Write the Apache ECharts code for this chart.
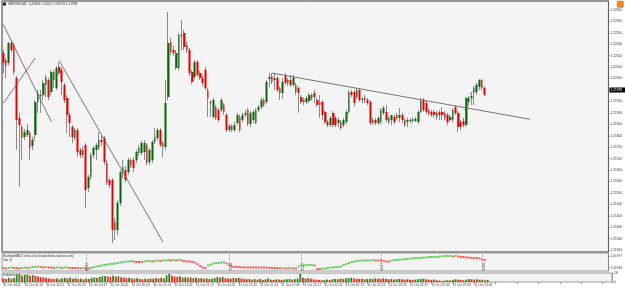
<!DOCTYPE html>
<html>
<head>
<meta charset="utf-8">
<script src="https://cdn.jsdelivr.net/npm/echarts@6/dist/echarts.min.js"></script>
<style>
  html, body { margin: 0; padding: 0; background: #fff; }
  #chart { width: 625px; height: 289px; }
</style>
</head>
<body>
<div id="chart"></div>
<script>
// GBPUSD M1, 11 Oct 2016, oldest bar first
const opens = [
  1.22162, 1.22131, 1.22118, 1.22205, 1.22197, 1.22052, 1.21878, 1.21838, 1.21795, 1.21803,
  1.21812, 1.21755, 1.21803, 1.21948, 1.21978, 1.21978, 1.22022, 1.22044, 1.21991, 1.22044,
  1.22009, 1.22101, 1.22087, 1.22022, 1.21965, 1.21891, 1.21838, 1.21790, 1.21825, 1.21738,
  1.21716, 1.21760, 1.21572, 1.21620, 1.21716, 1.21738, 1.21747, 1.21781, 1.21790, 1.21681,
  1.21607, 1.21607, 1.21423, 1.21388, 1.21506, 1.21642, 1.21650, 1.21642, 1.21694, 1.21694,
  1.21694, 1.21725, 1.21725, 1.21729, 1.21760, 1.21685, 1.21694, 1.21773, 1.21790, 1.21825,
  1.21768, 1.21751, 1.21969, 1.22210, 1.22175, 1.22096, 1.22096, 1.22236, 1.22249, 1.22197,
  1.22175, 1.22079, 1.22057, 1.22122, 1.22074, 1.22052, 1.22087, 1.22000, 1.21948, 1.21882,
  1.21926, 1.21913, 1.21913, 1.21934, 1.21891, 1.21825, 1.21843, 1.21825, 1.21856, 1.21882,
  1.21869, 1.21891, 1.21913, 1.21851, 1.21869, 1.21856, 1.21913, 1.21926, 1.21956, 1.21948,
  1.22048, 1.22061, 1.22044, 1.22052, 1.22009, 1.21987, 1.22061, 1.22031, 1.22044, 1.22022,
  1.21991, 1.22009, 1.21969, 1.21956, 1.21948, 1.21952, 1.21965, 1.21987, 1.21956, 1.21948,
  1.21948, 1.21904, 1.21860, 1.21847, 1.21900, 1.21878, 1.21856, 1.21860, 1.21847, 1.21860,
  1.21904, 1.21991, 1.21991, 1.21969, 1.22000, 1.21956, 1.21965, 1.21956, 1.21948, 1.21856,
  1.21869, 1.21856, 1.21860, 1.21900, 1.21904, 1.21860, 1.21869, 1.21882, 1.21891, 1.21878,
  1.21891, 1.21869, 1.21860, 1.21865, 1.21865, 1.21865, 1.21860, 1.21904, 1.21956, 1.21943,
  1.21913, 1.21904, 1.21904, 1.21882, 1.21904, 1.21904, 1.21900, 1.21891, 1.21869, 1.21869,
  1.21926, 1.21900, 1.21860, 1.21865, 1.21847, 1.21948, 1.21965, 1.21987, 1.21991, 1.22013,
  1.22044, 1.22009
];
const closes = [
  1.22118, 1.22105, 1.22205, 1.22175, 1.22079, 1.21869, 1.21847, 1.21790, 1.21816, 1.21825,
  1.21747, 1.21781, 1.21948, 1.21987, 1.21974, 1.22031, 1.22057, 1.21969, 1.22079, 1.22079,
  1.22096, 1.22074, 1.22035, 1.21956, 1.21891, 1.21856, 1.21795, 1.21825, 1.21729, 1.21716,
  1.21738, 1.21563, 1.21620, 1.21716, 1.21747, 1.21760, 1.21781, 1.21773, 1.21685, 1.21594,
  1.21585, 1.21388, 1.21388, 1.21506, 1.21642, 1.21664, 1.21607, 1.21694, 1.21672, 1.21659,
  1.21729, 1.21747, 1.21768, 1.21768, 1.21681, 1.21738, 1.21773, 1.21795, 1.21825, 1.21760,
  1.21751, 1.21943, 1.22205, 1.22166, 1.22162, 1.22162, 1.22240, 1.22240, 1.22188, 1.22175,
  1.22074, 1.22035, 1.22122, 1.22066, 1.22052, 1.22031, 1.22009, 1.21965, 1.21943, 1.21956,
  1.21878, 1.21869, 1.21956, 1.21904, 1.21825, 1.21843, 1.21825, 1.21847, 1.21891, 1.21825,
  1.21891, 1.21900, 1.21851, 1.21900, 1.21904, 1.21913, 1.21926, 1.21956, 1.21934, 1.22035,
  1.22057, 1.22035, 1.22052, 1.22000, 1.21987, 1.22035, 1.22031, 1.22044, 1.22022, 1.22052,
  1.22022, 1.21987, 1.21948, 1.21948, 1.21965, 1.21978, 1.21978, 1.21969, 1.21934, 1.21934,
  1.21891, 1.21860, 1.21847, 1.21878, 1.21847, 1.21847, 1.21869, 1.21834, 1.21869, 1.21904,
  1.21991, 1.21978, 1.21943, 1.22000, 1.21956, 1.21961, 1.21956, 1.21943, 1.21856, 1.21869,
  1.21856, 1.21878, 1.21913, 1.21921, 1.21869, 1.21878, 1.21891, 1.21860, 1.21878, 1.21891,
  1.21869, 1.21847, 1.21869, 1.21869, 1.21873, 1.21873, 1.21904, 1.21952, 1.21913, 1.21904,
  1.21895, 1.21891, 1.21891, 1.21900, 1.21891, 1.21891, 1.21878, 1.21860, 1.21882, 1.21913,
  1.21900, 1.21838, 1.21838, 1.21847, 1.21965, 1.21965, 1.21974, 1.22009, 1.22022, 1.22044,
  1.22009, 1.21978
];
const lows = [
  1.22074, 1.22052, 1.22109, 1.22166, 1.22066, 1.21738, 1.21576, 1.21694, 1.21781, 1.21795,
  1.21694, 1.21738, 1.21781, 1.21900, 1.21900, 1.21956, 1.21969, 1.21956, 1.21978, 1.22009,
  1.22000, 1.22066, 1.21978, 1.21943, 1.21812, 1.21795, 1.21768, 1.21781, 1.21707, 1.21703,
  1.21703, 1.21484, 1.21554, 1.21607, 1.21703, 1.21694, 1.21738, 1.21755, 1.21672, 1.21585,
  1.21572, 1.21331, 1.21344, 1.21366, 1.21493, 1.21615, 1.21598, 1.21629, 1.21659, 1.21642,
  1.21681, 1.21712, 1.21716, 1.21694, 1.21672, 1.21672, 1.21681, 1.21764, 1.21781, 1.21751,
  1.21707, 1.21738, 1.21956, 1.22153, 1.22149, 1.22087, 1.22087, 1.22175, 1.22175, 1.22162,
  1.22061, 1.22026, 1.22048, 1.22057, 1.22044, 1.22017, 1.22000, 1.21882, 1.21882, 1.21878,
  1.21869, 1.21860, 1.21904, 1.21891, 1.21816, 1.21816, 1.21816, 1.21816, 1.21847, 1.21816,
  1.21860, 1.21882, 1.21843, 1.21838, 1.21856, 1.21851, 1.21904, 1.21917, 1.21926, 1.21939,
  1.22013, 1.22026, 1.22000, 1.21991, 1.21956, 1.21961, 1.22022, 1.22017, 1.22013, 1.22013,
  1.21978, 1.21900, 1.21939, 1.21934, 1.21939, 1.21943, 1.21956, 1.21943, 1.21926, 1.21878,
  1.21869, 1.21851, 1.21838, 1.21838, 1.21838, 1.21838, 1.21838, 1.21825, 1.21838, 1.21851,
  1.21895, 1.21969, 1.21926, 1.21961, 1.21948, 1.21943, 1.21943, 1.21934, 1.21847, 1.21847,
  1.21847, 1.21847, 1.21851, 1.21891, 1.21860, 1.21851, 1.21847, 1.21851, 1.21869, 1.21860,
  1.21856, 1.21838, 1.21838, 1.21856, 1.21856, 1.21860, 1.21851, 1.21900, 1.21904, 1.21895,
  1.21886, 1.21882, 1.21878, 1.21869, 1.21869, 1.21869, 1.21869, 1.21847, 1.21860, 1.21860,
  1.21891, 1.21816, 1.21825, 1.21838, 1.21838, 1.21930, 1.21934, 1.21934, 1.21978, 1.22000,
  1.22000, 1.21974
];
const highs = [
  1.22175, 1.22140, 1.22210, 1.22214, 1.22205, 1.22061, 1.21900, 1.21847, 1.21830, 1.21851,
  1.21821, 1.21795, 1.21956, 1.22000, 1.22000, 1.22044, 1.22066, 1.22052, 1.22087, 1.22087,
  1.22105, 1.22122, 1.22096, 1.22031, 1.21978, 1.21900, 1.21847, 1.21834, 1.21834, 1.21747,
  1.21755, 1.21768, 1.21629, 1.21725, 1.21755, 1.21768, 1.21816, 1.21799, 1.21799, 1.21694,
  1.21615, 1.21615, 1.21441, 1.21519, 1.21650, 1.21694, 1.21668, 1.21703, 1.21703, 1.21707,
  1.21738, 1.21760, 1.21777, 1.21781, 1.21768, 1.21747, 1.21781, 1.21834, 1.21834, 1.21834,
  1.21777, 1.22044, 1.22341, 1.22227, 1.22192, 1.22175, 1.22249, 1.22306, 1.22262, 1.22210,
  1.22184, 1.22087, 1.22131, 1.22131, 1.22083, 1.22066, 1.22101, 1.22009, 1.21956, 1.21965,
  1.21934, 1.21921, 1.21965, 1.21943, 1.21900, 1.21851, 1.21851, 1.21860, 1.21900, 1.21891,
  1.21900, 1.21913, 1.21921, 1.21908, 1.21913, 1.21921, 1.21934, 1.21965, 1.21965, 1.22044,
  1.22074, 1.22074, 1.22074, 1.22061, 1.22017, 1.22052, 1.22074, 1.22052, 1.22066, 1.22066,
  1.22031, 1.22017, 1.21978, 1.21965, 1.21974, 1.21987, 1.21987, 1.22000, 1.21965, 1.21978,
  1.21956, 1.21913, 1.21869, 1.21886, 1.21908, 1.21886, 1.21878, 1.21869, 1.21878, 1.21913,
  1.22000, 1.22000, 1.22000, 1.22009, 1.22009, 1.21969, 1.21978, 1.21965, 1.21956, 1.21878,
  1.21878, 1.21886, 1.21921, 1.21930, 1.21934, 1.21886, 1.21891, 1.21891, 1.21900, 1.21921,
  1.21900, 1.21878, 1.21878, 1.21878, 1.21882, 1.21882, 1.21913, 1.21965, 1.21965, 1.21956,
  1.21921, 1.21913, 1.21913, 1.21908, 1.21913, 1.21926, 1.21908, 1.21900, 1.21891, 1.21921,
  1.21934, 1.21908, 1.21869, 1.21878, 1.21969, 1.21974, 1.21991, 1.22017, 1.22031, 1.22048,
  1.22048, 1.22017
];

// tick volumes (lower window)
const volumes = [
  12, 10, 14, 11, 13, 26, 27, 22, 24, 25, 21, 23, 20, 18, 16, 15, 14, 12, 11, 10,
  12, 9, 13, 14, 12, 15, 11, 13, 10, 11, 9, 12, 10, 14, 15, 13, 17, 19, 20, 18,
  17, 21, 18, 19, 16, 15, 13, 14, 12, 11, 13, 10, 9, 11, 10, 12, 11, 13, 12, 14,
  12, 22, 27, 21, 18, 17, 19, 15, 16, 14, 15, 13, 14, 12, 13, 11, 12, 10, 11, 13,
  16, 15, 17, 13, 12, 11, 14, 13, 14, 12, 10, 9, 10, 8, 9, 8, 10, 7, 9, 12,
  8, 7, 9, 8, 7, 8, 9, 10, 8, 9, 11, 27, 14, 12, 13, 11, 9, 8, 7, 6,
  7, 8, 7, 9, 10, 9, 11, 10, 12, 13, 14, 12, 11, 10, 11, 9, 10, 11, 10, 12,
  11, 10, 12, 11, 9, 10, 8, 9, 10, 9, 8, 9, 8, 7, 8, 9, 10, 11, 9, 8,
  7, 8, 6, 5, 4, 5, 6, 5, 7, 9, 8, 7, 6, 8, 10, 9, 8, 9, 7, 8,
  6, 7
];

// dotted indicator in the middle window
const dotValues = [
  1.0152, 1.0150, 1.0152, 1.0154, 1.0152, 1.0152, 1.0150, 1.0152, 1.0154, 1.0152,
  1.0154, 1.0156, 1.0156, 1.0158, 1.0156, 1.0154, 1.0156, 1.0154, 1.0154, 1.0152,
  1.0154, 1.0154, 1.0152, 1.0154, 1.0154, 1.0152, 1.0152, 1.0152, 1.0152, 1.0150,
  1.0152, 1.0150, 1.0150, 1.0152, 1.0156, 1.0158, 1.0160, 1.0162, 1.0164, 1.0166,
  1.0168, 1.0168, 1.0170, 1.0172, 1.0174, 1.0176, 1.0178, 1.0178, 1.0180, 1.0178,
  1.0176, 1.0176, 1.0176, 1.0178, 1.0180, 1.0180, 1.0178, 1.0180, 1.0182, 1.0180,
  1.0182, 1.0182, 1.0184, 1.0182, 1.0184, 1.0182, 1.0184, 1.0182, 1.0180, 1.0178,
  1.0178, 1.0176, 1.0174, 1.0168, 1.0160, 1.0154, 1.0152, 1.0162, 1.0166, 1.0170,
  1.0172, 1.0172, 1.0174, 1.0174, 1.0170, 1.0162, 1.0158, 1.0156, 1.0156, 1.0156,
  1.0154, 1.0154, 1.0154, 1.0154, 1.0154, 1.0154, 1.0154, 1.0154, 1.0154, 1.0154,
  1.0152, 1.0152, 1.0152, 1.0152, 1.0150, 1.0152, 1.0150, 1.0150, 1.0152, 1.0150,
  1.0150, 1.0158, 1.0162, 1.0162, 1.0164, 1.0164, 1.0164, 1.0162, 1.0148, 1.0148,
  1.0150, 1.0150, 1.0152, 1.0154, 1.0154, 1.0156, 1.0156, 1.0158, 1.0164, 1.0168,
  1.0172, 1.0176, 1.0178, 1.0180, 1.0182, 1.0182, 1.0182, 1.0182, 1.0182, 1.0184,
  1.0182, 1.0182, 1.0182, 1.0180, 1.0178, 1.0178, 1.0182, 1.0184, 1.0184, 1.0186,
  1.0186, 1.0188, 1.0188, 1.0190, 1.0190, 1.0192, 1.0192, 1.0192, 1.0194, 1.0194,
  1.0196, 1.0196, 1.0196, 1.0196, 1.0198, 1.0198, 1.0200, 1.0200, 1.0200, 1.0198,
  1.0200, 1.0198, 1.0196, 1.0196, 1.0194, 1.0194, 1.0192, 1.0192, 1.0192, 1.0190,
  1.0186, 1.0184
];

// axis texts
const timeLabels = [
  '11 Oct 2016', '11 Oct 20:13', '11 Oct 20:21', '11 Oct 20:29', '11 Oct 20:37', '11 Oct 20:45',
  '11 Oct 20:53', '11 Oct 21:01', '11 Oct 21:09', '11 Oct 21:17', '11 Oct 21:25', '11 Oct 21:33',
  '11 Oct 21:41', '11 Oct 21:49', '11 Oct 21:57', '11 Oct 22:05', '11 Oct 22:13', '11 Oct 22:21',
  '11 Oct 22:29', '11 Oct 22:37', '11 Oct 22:45', '11 Oct 22:53', '11 Oct 23:01'
];
const priceTicks = [
  1.2130, 1.2135, 1.2140, 1.2145, 1.2150, 1.2155, 1.2160, 1.2165, 1.2170, 1.2175, 1.2180,
  1.2185, 1.2190, 1.2195, 1.2200, 1.2205, 1.2210, 1.2215, 1.2220, 1.2225, 1.2230, 1.2235
];
const dotTicks = [1.01977, 1.01534];
const volTicks = [28, 0];

// hand drawn trend lines: [bar index, price] pairs
const trendLines = [
  [[0, 1.22286], [18, 1.21862]],
  [[0, 1.21942], [12, 1.22140]],
  [[21, 1.22128], [60, 1.21336]],
  [[101, 1.22074], [198, 1.21872]]
];
const blueMark = [[175, 1.21978], [179, 1.22035]];

// period separators in the middle window
const sepIdx = [31, 85, 112, 142, 180];
const sepLabels = ['20:36', '21:30', '21:57', '22:27', '23:05'];

const SLOTS = 228;          // bars plus empty chart shift on the right
const BULL = '#0b650b', BEAR = '#e40000', WICK = '#6e6e6e';
const FONT = 'Liberation Sans';
const TXT = { fontFamily: FONT, fontSize: 3.2, color: '#333' };

const cats = Array.from({ length: SLOTS }, (_, i) => i);
const candles = opens.map((o, i) => [o, closes[i], lows[i], highs[i]]);
const last = opens.length - 1;

let up = false;
const dots = dotValues.map((v, i) => {
  if (i > 0 && v !== dotValues[i - 1]) up = v > dotValues[i - 1];
  return { value: v, itemStyle: { color: up ? '#2ec42e' : '#ff2b2b' } };
});
const vols = volumes.map((v, i) => ({
  value: v,
  itemStyle: { color: i > 0 && v > volumes[i - 1] ? '#1d8a1d' : '#ff2020' }
}));

const chart = echarts.init(document.getElementById('chart'));

const xAxes = [0, 1, 2].map(g => ({
  type: 'category', gridIndex: g, data: cats, boundaryGap: true,
  axisLine: { show: false },
  axisTick: g === 2
    ? { show: true, interval: 7, alignWithLabel: true, length: 2, lineStyle: { color: '#666', width: 0.6 } }
    : { show: false },
  axisLabel: g === 2 ? {
    ...TXT, interval: 7, align: 'left', margin: 1.5,
    formatter: (v, idx) => timeLabels[idx / 8] || ''
  } : { show: false },
  splitLine: { show: false }
}));

const yRight = (g, min, max, ticks, fmt) => ({
  type: 'value', gridIndex: g, position: 'right', min, max,
  axisLine: { show: true, lineStyle: { color: '#777', width: 0.6 } },
  axisTick: { show: true, length: 1.5, customValues: ticks, lineStyle: { color: '#777', width: 0.6 } },
  axisLabel: { ...TXT, customValues: ticks, formatter: fmt, margin: 2 },
  splitLine: { show: false }
});

chart.setOption({
  animation: false,
  backgroundColor: '#fff',
  grid: [
    { left: 2, top: 1, width: 610, height: 251, show: true, backgroundColor: '#f4f4f4', borderColor: '#333', borderWidth: 1 },
    { left: 2, top: 253, width: 610, height: 18, show: true, backgroundColor: '#f4f4f4', borderColor: '#999', borderWidth: 1 },
    { left: 2, top: 273, width: 610, height: 9, show: true, backgroundColor: '#f4f4f4', borderColor: '#999', borderWidth: 1 }
  ],
  xAxis: xAxes,
  yAxis: [
    yRight(0, 1.21292, 1.22389, priceTicks, v => v.toFixed(5)),
    yRight(1, 1.0140, 1.0212, dotTicks, v => v.toFixed(5)),
    yRight(2, 0, 30, volTicks, v => String(v))
  ],
  graphic: [
    { type: 'rect', left: 3, top: 2.5, shape: { width: 3, height: 3 }, style: { fill: '#222' } },
    { type: 'text', left: 8, top: 2.2, style: { ...TXT, fill: '#222', text:
      'GBPUSD,M1  ' + opens[last].toFixed(5) + ' ' + highs[last].toFixed(5) + ' ' +
      lows[last].toFixed(5) + ' ' + closes[last].toFixed(5) } },
    { type: 'rect', left: 617, top: 1, shape: { width: 6, height: 6 }, style: { fill: '#f08a24', stroke: '#a04a00', lineWidth: 0.5 } },
    { type: 'text', left: 3, top: 255, style: { ...TXT, fill: '#333', text: 'RainbowMA 4 cmd. chart [www.forex-station.com]' } },
    { type: 'text', left: 3, top: 259, style: { ...TXT, fill: '#333', text: 'Top 11' } },
    { type: 'text', left: 3, top: 274, style: { ...TXT, fill: '#333', text: 'Volumes' } }
  ],
  series: [
    {
      // grey wicks under the coloured bodies
      type: 'candlestick', xAxisIndex: 0, yAxisIndex: 0, data: candles, barWidth: 0.2,
      itemStyle: { color: WICK, color0: WICK, borderColor: WICK, borderColor0: WICK, borderWidth: 0.8 },
      silent: true
    },
    {
      type: 'candlestick', xAxisIndex: 0, yAxisIndex: 0, data: candles, barWidth: 2.2,
      itemStyle: { color: BULL, color0: BEAR, borderColor: BULL, borderColor0: BEAR, borderWidth: 0 },
      markLine: {
        silent: true, symbol: 'none', animation: false,
        label: { show: false },
        data: [
          ...trendLines.map(l => [
            { coord: l[0], lineStyle: { color: '#555', width: 0.8, type: 'solid' } },
            { coord: l[1] }
          ]),
          [
            { coord: blueMark[0], lineStyle: { color: '#5a5aff', width: 0.8, type: 'dotted' } },
            { coord: blueMark[1] }
          ]
        ]
      }
    },
    {
      // current bid label on the price scale
      type: 'line', xAxisIndex: 0, yAxisIndex: 0, data: [], silent: true,
      markLine: {
        silent: true, symbol: 'none', animation: false,
        lineStyle: { color: 'rgba(0,0,0,0)', width: 0.5 },
        label: {
          show: true, position: 'end', distance: 1,
          formatter: () => closes[last].toFixed(5),
          backgroundColor: '#000', color: '#fff', fontFamily: FONT, fontSize: 3.2,
          padding: [1, 3, 1, 1]
        },
        data: [{ yAxis: closes[last] }]
      }
    },
    {
      type: 'scatter', xAxisIndex: 1, yAxisIndex: 1, data: dots,
      symbol: 'rect', symbolSize: [2, 2], silent: true,
      markLine: {
        silent: true, symbol: 'none', animation: false,
        lineStyle: { color: '#888', width: 0.6, type: 'dashed' },
        label: { show: true, position: 'insideStartBottom', ...TXT, color: '#555', distance: 0,
          formatter: p => sepLabels[sepIdx.indexOf(p.value)] || '' },
        data: sepIdx.map(i => ({ xAxis: i }))
      }
    },
    {
      type: 'bar', xAxisIndex: 2, yAxisIndex: 2, data: vols, barWidth: 1.8, silent: true
    }
  ]
});
</script>
</body>
</html>
